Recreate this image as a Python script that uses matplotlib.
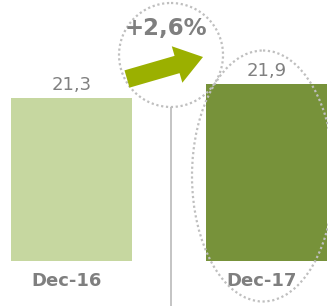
import matplotlib
matplotlib.use("Agg")
import matplotlib.pyplot as plt
import matplotlib.patches as mpatches

categories = ["Dec-16", "Dec-17"]
values = [21.3, 21.9]
value_labels = ["21,3", "21,9"]
change_label = "+2,6%"
bar_colors = ["#C6D7A0", "#77923A"]

W, H = 328, 306
fig = plt.figure(figsize=(W / 100, H / 100), dpi=100)

# Data axes covering the whole figure
ax = fig.add_axes([0, 0, 1, 1])
baseline = 14.314
x = list(range(len(categories)))
ax.bar(x, [v - baseline for v in values], bottom=baseline, width=0.62,
       color=bar_colors, zorder=2)
ax.set_xlim(-0.3667, 1.3154)
ax.set_ylim(12.386, 25.5)
ax.axis("off")

for xi, v, lab in zip(x, values, value_labels):
    ax.annotate(lab, (xi, v), xytext=(0, 13), textcoords="offset pixels",
                ha="center", va="center", fontsize=13, color="#808080",
                family="DejaVu Sans")
for xi, cat in zip(x, categories):
    ax.annotate(cat, (xi, baseline), xytext=(-5, -20), textcoords="offset pixels",
                ha="center", va="center", fontsize=13, fontweight="bold",
                color="#7F7F7F", family="DejaVu Sans")

# Overlay axes in pixel space for decorations
ov = fig.add_axes([0, 0, 1, 1], zorder=3)
ov.set_xlim(0, W)
ov.set_ylim(H, 0)
ov.axis("off")
ov.patch.set_alpha(0)

ov.plot([171, 171], [107, 306], color="#BFBFBF", lw=1.3, solid_capstyle="butt")
ov.add_patch(mpatches.Circle((171, 55), 52, fill=False, ec="#BFBFBF",
                             lw=1.6, ls=(0, (1, 1.2))))
ov.add_patch(mpatches.Ellipse((263, 176), 142, 251, fill=False, ec="#BFBFBF",
                              lw=1.6, ls=(0, (1, 1.2))))
ov.add_patch(mpatches.FancyArrow(127, 79, 76, -22, width=18, head_width=38,
                                 head_length=27, length_includes_head=True,
                                 color="#9BB000", lw=0))
ov.text(166, 28, change_label, ha="center", va="center", fontsize=16.5,
        fontweight="bold", color="#7F7F7F", family="DejaVu Sans")

fig.savefig("out.png", dpi=100)
